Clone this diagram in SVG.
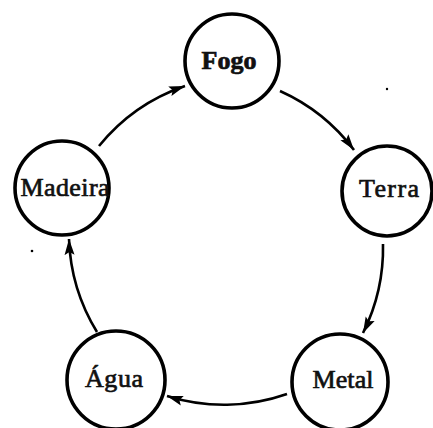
<svg xmlns="http://www.w3.org/2000/svg" width="433" height="428" viewBox="0 0 433 428">
<style>
.node circle { fill: #fff; stroke: #000; stroke-width: 3.6; }
.node text { font-family: "Liberation Serif", "Times New Roman", serif; font-size: 26px; fill: #111; stroke: #111; stroke-width: 0.7; text-anchor: middle; }
.conn path { fill: none; stroke: #000; stroke-width: 2.6; marker-end: url(#arrow); }
</style>
<defs>
<marker id="arrow" markerUnits="userSpaceOnUse" markerWidth="17" markerHeight="12" viewBox="0 0 17 12" refX="16" refY="6" orient="auto">
<path d="M0,1 L16,6 L0,11 L3,6 Z" fill="#000"/>
</marker>
</defs>
<rect width="433" height="428" fill="#fff"/>
<g class="conn">
<path d="M99,146 A190,190 0 0 1 185,86"/>
<path d="M280,91 A190,190 0 0 1 354,150"/>
<path d="M383,244 A190,190 0 0 1 363,333"/>
<path d="M287,394 A190,190 0 0 1 167,396"/>
<path d="M97,332 A190,190 0 0 1 69,239"/>
</g>
<g id="fogo" class="node"><circle cx="232" cy="61" r="47"/><text x="229" y="69" font-size="25" font-weight="bold">Fogo</text></g>
<g id="terra" class="node"><circle cx="387" cy="191" r="45"/><text x="389" y="197" textLength="60" lengthAdjust="spacing">Terra</text></g>
<g id="metal" class="node"><circle cx="340" cy="382" r="48"/><text x="343" y="388" textLength="61" lengthAdjust="spacing">Metal</text></g>
<g id="agua" class="node"><circle cx="116" cy="380" r="49"/><text x="114" y="387" textLength="58" lengthAdjust="spacing">Água</text></g>
<g id="madeira" class="node"><circle cx="62" cy="188" r="47"/><text x="65" y="196" textLength="89" lengthAdjust="spacing">Madeira</text></g>
<circle cx="387" cy="89" r="1.2" fill="#000"/>
<circle cx="32" cy="251" r="1.3" fill="#000"/>
</svg>
